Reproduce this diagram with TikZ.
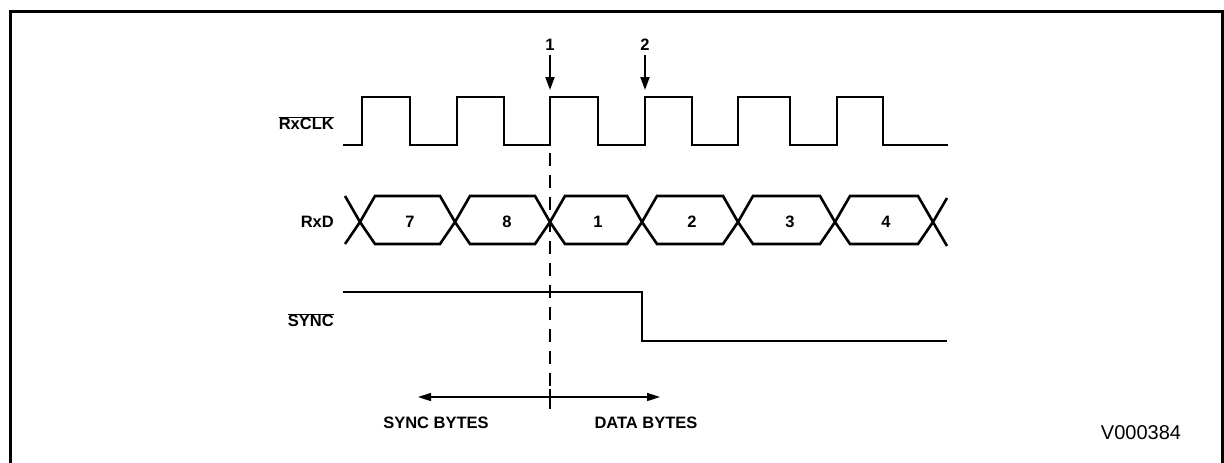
\documentclass[tikz,border=0pt]{standalone}
\usepackage{fontspec}
\setmainfont{Liberation Sans}
\usetikzlibrary{arrows.meta}
\tikzset{
  wave/.style={line width=2.6pt, line join=miter},
  lbl/.style={font=\fontsize{16.5}{18}\selectfont\bfseries, inner sep=0pt},
  sig/.style={lbl, anchor=east},
  marker/.style={line width=2pt, -{Triangle[length=13pt,width=9pt]}},
  span/.style={line width=1.6pt, -{Triangle[length=13pt,width=8pt]}},
  frame/.style={line width=3pt}
}
\begin{document}
\begin{tikzpicture}[x=1pt,y=-1pt]
\useasboundingbox (0,0) rectangle (1224,463);
% frame
\draw[frame] (10,463) -- (10,11) -- (1224,11);
\draw[frame] (1222,11) -- (1222,463);

% signal names
\node[sig] (nclk) at (334,123) {$\overline{\mbox{RxCLK}}$};
\node[sig] (nrxd) at (334,222) {RxD};
\node[sig] (nsync) at (334,320) {$\overline{\mbox{SYNC}}$};

% RxCLK waveform
\draw[wave] (343,145) -- (362,145) -- (362,97) -- (410,97) -- (410,145)
  -- (457,145) -- (457,97) -- (504,97) -- (504,145)
  -- (550,145) -- (550,97) -- (598,97) -- (598,145)
  -- (645,145) -- (645,97) -- (692,97) -- (692,145)
  -- (738,145) -- (738,97) -- (790,97) -- (790,145)
  -- (837,145) -- (837,97) -- (883,97) -- (883,145) -- (948,145);

% RxD bus
\foreach \a/\b in {360/455,455/550,550/642,642/738,738/835,835/933}{
  \draw[wave] (\a,222) -- (\a+15,196) -- (\b-15,196) -- (\b,222) -- (\b-15,244) -- (\a+15,244) -- cycle;
}
\draw[wave] (345,196) -- (360,222) -- (345,244);
\draw[wave] (933,222) -- (947,198) (933,222) -- (947,246);
\node[lbl] (d7) at (410,222) {7};
\node[lbl] (d8) at (507,222) {8};
\node[lbl] (d1) at (598,222) {1};
\node[lbl] (d2) at (692,222) {2};
\node[lbl] (d3) at (790,222) {3};
\node[lbl] (d4) at (886,222) {4};

% SYNC waveform
\draw[wave] (343,292) -- (642,292) -- (642,341) -- (947,341);

% markers
\node[lbl] (m1) at (550,45) {1};
\node[lbl] (m2) at (645,45) {2};
\coordinate (t1) at (550,90);
\coordinate (t2) at (645,90);
\draw[marker] (m1.south) ++(0,4) -- (t1);
\draw[marker] (m2.south) ++(0,4) -- (t2);

% dashed reference line
\coordinate (dtop) at (550,153);
\coordinate (dbot) at (550,410);
\draw[line width=1.8pt, dash pattern=on 13pt off 9pt] (dtop) -- (dbot);

% bottom span arrows
\coordinate (mid) at (550,397);
\coordinate (lt) at (418,397);
\coordinate (rt) at (660,397);
\draw[span] (mid) -- (lt);
\draw[span] (mid) -- (rt);
\draw[line width=1.8pt] (550,389) -- (550,409);
\node[lbl] (sb) at (436,423) {SYNC BYTES};
\node[lbl] (db) at (646,423) {DATA BYTES};

% figure id
\node[font=\fontsize{20}{22}\selectfont, inner sep=0pt] (fid) at (1141,433) {V000384};
\end{tikzpicture}
\end{document}
